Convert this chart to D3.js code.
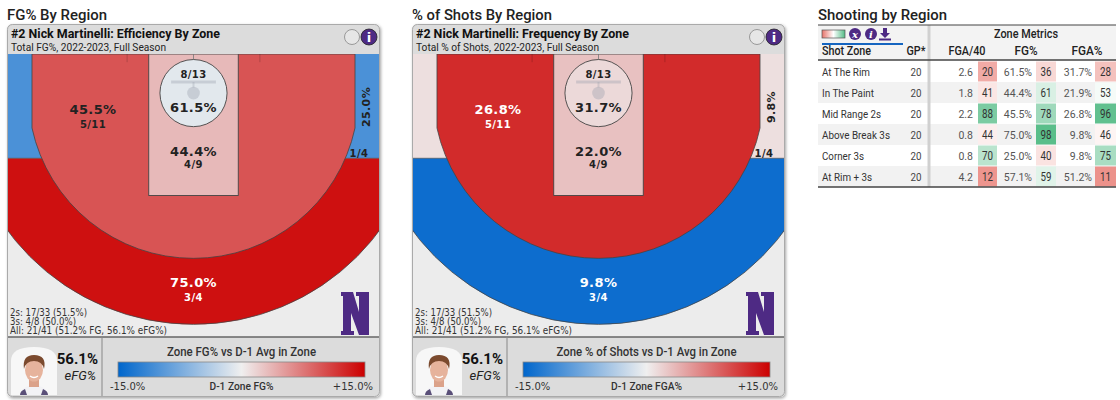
<!DOCTYPE html>
<html><head><meta charset="utf-8">
<script src="https://cdn.jsdelivr.net/npm/d3@7"></script>
<style>
body{margin:0;background:#fff;}
svg{display:block;font-family:Roboto, "Noto Sans", sans-serif;}
</style>
</head><body>
<svg id="chart" width="1120" height="400"></svg>
<script>
// ---------------- DATA ----------------
const courtZones     = ["rim", "paint", "mid", "above", "corner"];
const zoneMakes      = [8, 4, 5, 3, 1];
const zoneAttempts   = [13, 9, 11, 4, 4];
const zoneFgPct      = [61.5, 44.4, 45.5, 75.0, 25.0];
const zoneShotPct    = [31.7, 22.0, 26.8, 9.8, 9.8];
const zoneFgDiff     = [-0.8, 3.4, 9.7, 14.0, -10.3];   // vs D-1 avg (pct pts)
const zoneFreqDiff   = [1.4, 2.9, 12.3, -14.2, 1.0];    // vs D-1 avg (pct pts)
const legendTicks    = ["-15.0%", "+15.0%"];
const summaryLines   = ["2s: 17/33 (51.5%)", "3s: 4/8 (50.0%)", "All: 21/41 (51.2% FG, 56.1% eFG%)"];
const efgValue       = "56.1%";

const tableZones     = ["At The Rim", "In The Paint", "Mid Range 2s", "Above Break 3s", "Corner 3s", "At Rim + 3s"];
const tableGP        = [20, 20, 20, 20, 20, 20];
const tableFga40     = [2.6, 1.8, 2.2, 0.8, 0.8, 4.2];
const tableFga40Rank = [20, 41, 88, 44, 70, 12];
const tableFgPct     = [61.5, 44.4, 45.5, 75.0, 25.0, 57.1];
const tableFgPctRank = [36, 61, 78, 98, 40, 59];
const tableFgaShare  = [31.7, 21.9, 26.8, 9.8, 9.8, 51.2];
const tableFgaShareRank = [28, 53, 96, 46, 75, 11];
const tableHeaders   = ["Shot Zone", "GP*", "FGA/40", "FG%", "FGA%"];

// ---------------- SETUP ----------------
const svg = d3.select("#chart");
const defs = svg.append("defs");
const shadow = defs.append("filter").attr("id", "shadow").attr("x", "-5%").attr("y", "-5%").attr("width", "110%").attr("height", "110%");
shadow.append("feDropShadow").attr("dx", 1).attr("dy", 1.5).attr("stdDeviation", 1.5).attr("flood-color", "#000").attr("flood-opacity", 0.35);

// the reference uses a condensed face: fit texts to widths
function fitTo(sel, w) { return sel.attr("textLength", w).attr("lengthAdjust", "spacingAndGlyphs"); }

const diffColor = d3.scaleLinear().domain([-15, 0, 15]).range(["#0066cc", "#efefef", "#cc0000"]).clamp(true);
const grad = defs.append("linearGradient").attr("id", "legGrad");
[[0, "#0066cc"], [0.5, "#efefef"], [1, "#cc0000"]].forEach(s => grad.append("stop").attr("offset", s[0]).attr("stop-color", s[1]));

const panels = [
  { x0: 7, title: "FG% By Region", titleLen: 100,
    head: "#2 Nick Martinelli: Efficiency By Zone", headLen: 209,
    sub: "Total FG%, 2022-2023, Full Season", subLen: 155,
    values: zoneFgPct, diffs: zoneFgDiff,
    legTitle: "Zone FG% vs D-1 Avg in Zone", legTitleLen: 149,
    legLabel: "D-1 Zone FG%", legLabelLen: 64, id: "a" },
  { x0: 412, title: "% of Shots By Region", titleLen: 140,
    head: "#2 Nick Martinelli: Frequency By Zone", headLen: 213,
    sub: "Total % of Shots, 2022-2023, Full Season", subLen: 183,
    values: zoneShotPct, diffs: zoneFreqDiff,
    legTitle: "Zone % of Shots vs D-1 Avg in Zone", legTitleLen: 180,
    legLabel: "D-1 Zone FGA%", legLabelLen: 71, id: "b" }
];
const summaryLens = [77, 66, 157];

const CW = 373, CH = 373;
const fx = d3.scaleLinear().domain([0, 50]).range([0, CW]);
const fy = d3.scaleLinear().domain([0, 38]).range([30, 313]);
const k = CW / 50;

panels.forEach(p => {
  fitTo(svg.append("text").attr("x", p.x0).attr("y", 20).attr("font-size", 15.5).attr("font-weight", 500)
    .attr("fill", "#222").text(p.title), p.titleLen);

  const g = svg.append("g").attr("transform", `translate(${p.x0},24)`);
  g.append("rect").attr("width", CW).attr("height", CH).attr("rx", 5).attr("fill", "#dcdcdc").attr("filter", "url(#shadow)");

  const clipId = "court" + p.id;
  defs.append("clipPath").attr("id", clipId).append("rect").attr("x", 0).attr("y", fy(0)).attr("width", CW).attr("height", fy(38) - fy(0));
  const clipAb = "above" + p.id;
  defs.append("clipPath").attr("id", clipAb).append("rect").attr("x", 0).attr("y", fy(14)).attr("width", CW).attr("height", fy(38) - fy(14));

  const court = g.append("g").attr("clip-path", `url(#${clipId})`);
  const col = i => diffColor(p.diffs[i]);
  const hx = fx(25), hy = fy(5.25);

  court.append("rect").attr("x", 0).attr("y", fy(0)).attr("width", CW).attr("height", fy(38) - fy(0)).attr("fill", "#ececec");
  // corner 3 band
  court.append("rect").attr("x", 0).attr("y", fy(0)).attr("width", CW).attr("height", fy(14) - fy(0))
    .attr("fill", col(4));
  // above the break 3
  court.append("circle").attr("cx", hx).attr("cy", hy).attr("r", 31 * k).attr("fill", col(3))
    .attr("stroke", "#444").attr("stroke-width", 0.8).attr("clip-path", `url(#${clipAb})`);
  court.append("line").attr("x1", 0).attr("x2", CW).attr("y1", fy(14)).attr("y2", fy(14)).attr("stroke", "#555").attr("stroke-width", 0.7);
  // mid range
  const xl = fx(25 - 21.65), xr = fx(25 + 21.65), R3 = 22.15 * k;
  const yj = hy + Math.sqrt(R3 * R3 - (hx - xl) * (hx - xl));
  court.append("path").attr("d", `M${xl},${fy(0)} V${yj} A${R3},${R3} 0 0 0 ${xr},${yj} V${fy(0)} Z`)
    .attr("fill", col(2)).attr("stroke", "#444").attr("stroke-width", 0.8);
  // hash marks
  [16.1, 33.9].forEach(f => court.append("line").attr("x1", fx(f)).attr("x2", fx(f)).attr("y1", fy(0)).attr("y2", fy(1.1)).attr("stroke", "rgba(0,0,0,0.18)"));
  // paint
  court.append("rect").attr("x", fx(19)).attr("y", fy(0)).attr("width", fx(31) - fx(19)).attr("height", fy(19) - fy(0))
    .attr("fill", col(1)).attr("stroke", "#444").attr("stroke-width", 0.9);
  // restricted / rim
  const rr = 4.5 * k;
  court.append("line").attr("x1", hx).attr("x2", hx).attr("y1", fy(0)).attr("y2", hy - rr).attr("stroke", "#777").attr("stroke-width", 0.8);
  court.append("circle").attr("cx", hx).attr("cy", hy).attr("r", rr).attr("fill", col(0)).attr("stroke", "#444").attr("stroke-width", 0.9);
  court.append("line").attr("x1", hx - 3 * k).attr("x2", hx + 3 * k).attr("y1", fy(3.76)).attr("y2", fy(3.76))
    .attr("stroke", "rgba(150,155,170,0.35)").attr("stroke-width", 3);
  court.append("line").attr("x1", hx).attr("x2", hx).attr("y1", fy(3.76)).attr("y2", hy - 0.75 * k)
    .attr("stroke", "rgba(150,155,170,0.3)").attr("stroke-width", 2);
  court.append("circle").attr("cx", hx).attr("cy", hy).attr("r", 0.85 * k).attr("fill", "rgba(150,155,170,0.35)");

  // labels
  const txtCol = i => Math.abs(p.diffs[i]) > 11 ? "#fff" : "#222";
  const lab = (x, y, s, size, i, rot) => {
    const t = g.append("text").attr("x", x).attr("y", y).attr("text-anchor", "middle").attr("dominant-baseline", "central")
      .attr("font-family", "DejaVu Sans, Verdana, sans-serif").attr("font-weight", "bold").attr("font-size", size)
      .attr("letter-spacing", 0.4).attr("fill", txtCol(i)).text(s);
    if (rot) t.attr("transform", `rotate(-90,${x},${y})`);
  };
  const pct = i => p.values[i].toFixed(1) + "%";
  const ma = i => zoneMakes[i] + "/" + zoneAttempts[i];
  lab(hx, 50, ma(0), 10, 0); lab(hx, 83, pct(0), 13, 0);
  lab(hx, 127, pct(1), 13, 1); lab(hx, 140, ma(1), 10, 1);
  lab(86, 85, pct(2), 13, 2); lab(86, 100, ma(2), 10, 2);
  lab(hx, 258, pct(3), 13, 3); lab(hx, 273, ma(3), 10, 3);
  lab(359, 83, pct(4), 11, 4, true); lab(352, 129, ma(4), 10, 4);

  // summary
  summaryLines.forEach((s, i) => fitTo(g.append("text").attr("x", 3).attr("y", 292 + i * 9).attr("font-size", 10.2)
    .attr("font-family", "DejaVu Sans, sans-serif").attr("fill", "#333").text(s), summaryLens[i]));

  // N logo
  g.append("path").attr("transform", "translate(334,268)")
    .attr("d", "M0,0 H12 L18,20 V4 H15 V0 H28 V43 H18 L10,21 V39 H13 V43 H0 V39 H2 V4 H0 Z").attr("fill", "#4e2a84");

  // header
  fitTo(g.append("text").attr("x", 4).attr("y", 14).attr("font-size", 13.5).attr("font-weight", 700).attr("fill", "#111")
    .text(p.head), p.headLen);
  fitTo(g.append("text").attr("x", 4).attr("y", 27).attr("font-size", 11.5).attr("fill", "#222")
    .text(p.sub), p.subLen);
  g.append("circle").attr("cx", 345).attr("cy", 13).attr("r", 7.5).attr("fill", "#e6e6e6").attr("stroke", "#999");
  g.append("circle").attr("cx", 362).attr("cy", 13).attr("r", 8).attr("fill", "#4e2a84").attr("stroke", "#222").attr("stroke-width", 0.8);
  g.append("text").attr("x", 362).attr("y", 17.5).attr("text-anchor", "middle").attr("font-size", 13).attr("font-weight", 700)
    .attr("font-family", "DejaVu Sans, sans-serif").attr("fill", "#fff").text("i");

  // bottom panel
  g.append("line").attr("x1", 0).attr("x2", CW).attr("y1", 313).attr("y2", 313).attr("stroke", "#666").attr("stroke-width", 1.5);
  g.append("line").attr("x1", 95).attr("x2", 95).attr("y1", 313).attr("y2", CH).attr("stroke", "#888").attr("stroke-width", 1);
  // photo
  const ph = g.append("g").attr("transform", "translate(4,323)");
  ph.append("path").attr("d", "M0,48 V14 Q0,0 23,0 Q46,0 46,14 V48 Z").attr("fill", "#f7f7f7");
  ph.append("path").attr("d", "M9,48 Q10,39 23,38 Q36,39 37,48 Z").attr("fill", "#f2f2f5");
  ph.append("path").attr("d", "M9,48 Q9,44 14,42 L16,48 Z M37,48 Q37,44 32,42 L30,48 Z").attr("fill", "#5a4f78");
  ph.append("rect").attr("x", 18).attr("y", 31).attr("width", 10).attr("height", 9).attr("fill", "#dba28a");
  ph.append("ellipse").attr("cx", 23).attr("cy", 23).attr("rx", 9).attr("ry", 11.5).attr("fill", "#e6b39c");
  ph.append("path").attr("d", "M13,22 Q11,8 23,8 Q36,8 33,22 Q31,14 23,14 Q15,14 13,22 Z").attr("fill", "#7b4a2e");
  ph.append("path").attr("d", "M19,29 Q23,32 27,29").attr("fill", "none").attr("stroke", "#fff").attr("stroke-width", 1.3);
  // efg
  g.append("text").attr("x", 91).attr("y", 340).attr("text-anchor", "end").attr("font-size", 15).attr("font-weight", 700).attr("fill", "#111").text(efgValue);
  g.append("text").attr("x", 89).attr("y", 356).attr("text-anchor", "end").attr("font-size", 13).attr("font-style", "italic").attr("fill", "#222").text("eFG%");
  // legend
  const lx = d3.scaleLinear().domain([-15, 15]).range([111, 358]);
  const lmid = (lx(-15) + lx(15)) / 2;
  fitTo(g.append("text").attr("x", lmid - p.legTitleLen / 2).attr("y", 332).attr("font-size", 13)
    .attr("font-weight", 500).attr("fill", "#333").text(p.legTitle), p.legTitleLen);
  g.append("rect").attr("x", lx(-15)).attr("y", 338).attr("width", lx(15) - lx(-15)).attr("height", 15)
    .attr("fill", "url(#legGrad)").attr("stroke", "#888").attr("stroke-width", 0.8);
  g.append("text").attr("x", lx(-15) - 8).attr("y", 366).attr("fill", "#333")
    .attr("font-family", "DejaVu Sans, sans-serif").attr("font-size", 10).text(legendTicks[0]);
  g.append("text").attr("x", lx(15) + 8).attr("y", 366).attr("text-anchor", "end").attr("fill", "#333")
    .attr("font-family", "DejaVu Sans, sans-serif").attr("font-size", 10).text(legendTicks[1]);
  fitTo(g.append("text").attr("x", lmid - p.legLabelLen / 2).attr("y", 366).attr("font-size", 11.5)
    .attr("font-weight", 500).attr("fill", "#333").text(p.legLabel), p.legLabelLen);

  g.append("rect").attr("x", 0.5).attr("y", 0.5).attr("width", CW - 1).attr("height", CH - 1).attr("rx", 5)
    .attr("fill", "none").attr("stroke", "#aaa");
});

// ---------------- TABLE ----------------
const T = { x0: 818, x1: 1116, top: 25, headBot: 60, bot: 187 };
fitTo(svg.append("text").attr("x", 818).attr("y", 20).attr("font-size", 15.5).attr("font-weight", 500).attr("fill", "#222")
  .text("Shooting by Region"), 129);
svg.append("rect").attr("x", T.x0).attr("y", T.top).attr("width", T.x1 - T.x0).attr("height", T.headBot - T.top).attr("fill", "#f3f3f3");

const rowY = d3.scaleBand().domain(tableZones).range([61, 187]);
const rankColor = d3.scaleLinear().domain([0, 50, 100]).range(["#e7736a", "#ffffff", "#53bb85"]);

tableZones.forEach((z, i) => {
  if (i % 2 === 1) svg.append("rect").attr("x", T.x0).attr("y", rowY(z)).attr("width", T.x1 - T.x0).attr("height", rowY.bandwidth()).attr("fill", "#f2f2f2");
});

// header icons
const mg = defs.append("linearGradient").attr("id", "miniGrad");
[[0, "#e7736a"], [0.5, "#ffffff"], [1, "#53bb85"]].forEach(s => mg.append("stop").attr("offset", s[0]).attr("stop-color", s[1]));
svg.append("rect").attr("x", 822).attr("y", 30).attr("width", 23).attr("height", 8).attr("fill", "url(#miniGrad)").attr("stroke", "#555").attr("stroke-width", 0.7);
[[855, "x"], [871, "i"]].forEach(d => {
  svg.append("circle").attr("cx", d[0]).attr("cy", 34).attr("r", 6).attr("fill", "#4e2a84");
  svg.append("text").attr("x", d[0]).attr("y", 37.5).attr("text-anchor", "middle").attr("font-size", 10).attr("font-style", "italic")
    .attr("font-weight", 700).attr("font-family", "DejaVu Serif, serif").attr("fill", "#fff").text(d[1]);
});
svg.append("path").attr("d", "M883,28 h4 v5 h3 l-5,5 l-5,-5 h3 Z M879,38.5 h12 v2 h-12 Z").attr("fill", "#4e2a84");
svg.append("line").attr("x1", 822).attr("x2", 903).attr("y1", 44).attr("y2", 44).attr("stroke", "#1565c0").attr("stroke-width", 2);

fitTo(svg.append("text").attr("x", 1026 - 32).attr("y", 38).attr("font-size", 12.5).attr("font-weight", 500).attr("fill", "#222").text("Zone Metrics"), 64);
const headX = [822, 916, 967, 1026, 1087];
const headW = [49, 19, 37, 23, 31];
tableHeaders.forEach((h, i) => fitTo(svg.append("text").attr("x", i === 0 ? headX[i] : headX[i] - headW[i] / 2).attr("y", 55)
  .attr("font-size", 12.5).attr("font-weight", 500).attr("fill", "#222").text(h), headW[i]));

const rowLabelW = [48, 52, 59, 68, 42, 50];
const cols = [
  { vals: tableFga40, fmt: v => v.toFixed(1), ranks: tableFga40Rank, vEnd: 973, bx: 978, bw: 19 },
  { vals: tableFgPct, fmt: v => v.toFixed(1) + "%", ranks: tableFgPctRank, vEnd: 1032, bx: 1036, bw: 20 },
  { vals: tableFgaShare, fmt: v => v.toFixed(1) + "%", ranks: tableFgaShareRank, vEnd: 1092, bx: 1095, bw: 21 }
];
tableZones.forEach((z, i) => {
  const y = rowY(z), cy = y + rowY.bandwidth() / 2;
  fitTo(svg.append("text").attr("x", 822).attr("y", cy + 4).attr("font-size", 11.5).attr("fill", "#333").text(z), rowLabelW[i]);
  fitTo(svg.append("text").attr("x", 916 - 5.5).attr("y", cy + 4).attr("font-size", 11.5).attr("fill", "#444").text(tableGP[i]), 11);
  cols.forEach(c => {
    svg.append("text").attr("x", c.vEnd).attr("y", cy + 4).attr("text-anchor", "end").attr("font-size", 10.5).attr("fill", "#555").text(c.fmt(c.vals[i]));
    svg.append("rect").attr("x", c.bx).attr("y", y + 0.5).attr("width", c.bw).attr("height", rowY.bandwidth() - 1).attr("fill", rankColor(c.ranks[i]));
    fitTo(svg.append("text").attr("x", c.bx + c.bw / 2 - 5.5).attr("y", cy + 4.5).attr("font-size", 12).attr("fill", "#333").text(c.ranks[i]), 11);
  });
});

svg.append("line").attr("x1", 929).attr("x2", 929).attr("y1", T.top).attr("y2", T.bot).attr("stroke", "#d0d0d0").attr("stroke-width", 3);
[[T.top, 1.2], [T.headBot, 1.5], [T.bot, 1.5]].forEach(d => svg.append("line").attr("x1", T.x0).attr("x2", T.x1)
  .attr("y1", d[0]).attr("y2", d[0]).attr("stroke", "#444").attr("stroke-width", d[1]));
</script>
</body></html>
